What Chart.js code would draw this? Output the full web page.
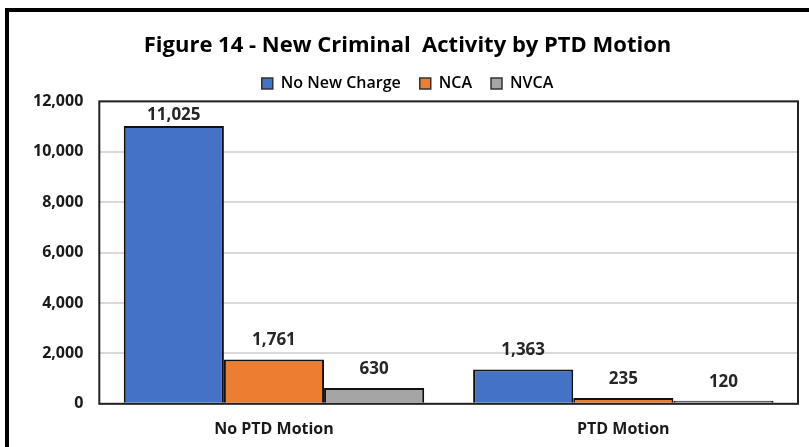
<!DOCTYPE html>
<html>
<head>
<meta charset="utf-8">
<script src="https://cdn.jsdelivr.net/npm/chart.js@4.4.0/dist/chart.umd.min.js"></script>
<style>
  html,body{margin:0;padding:0;background:#fff;}
  #wrap{position:relative;width:809px;height:447px;}
</style>
</head>
<body>
<div id="wrap"><canvas id="c" width="809" height="447"></canvas></div>
<script>
// chart data
const categories = ['No PTD Motion', 'PTD Motion'];
const noNewCharge = [11025, 1363];
const nca = [1761, 235];
const nvca = [630, 120];
const yTicks = [0, 2000, 4000, 6000, 8000, 10000, 12000];

const FONT = "'Open Sans', 'DejaVu Sans', sans-serif";

// outer frame + plot-area box
const framePlugin = {
  id: 'frame',
  afterDraw(chart) {
    const { ctx, chartArea: a } = chart;
    ctx.save();
    ctx.strokeStyle = '#000';
    ctx.lineWidth = 4;
    ctx.beginPath();
    ctx.moveTo(7, 460); ctx.lineTo(7, 10); ctx.lineTo(830, 10);
    ctx.stroke();
    ctx.strokeStyle = '#222';
    ctx.lineWidth = 2;
    ctx.strokeRect(a.left, a.top, a.right - a.left, a.bottom - a.top);
    ctx.restore();
  }
};

// bold value labels above each bar
const valueLabels = {
  id: 'valueLabels',
  afterDatasetsDraw(chart) {
    const { ctx, chartArea } = chart;
    ctx.save();
    ctx.font = 'bold 17px ' + FONT;
    ctx.fillStyle = '#262626';
    ctx.textAlign = 'center';
    ctx.textBaseline = 'middle';
    chart.data.datasets.forEach((ds, i) => {
      chart.getDatasetMeta(i).data.forEach((bar, j) => {
        const y = Math.max(bar.y - 19, chartArea.top + 14);
        ctx.fillText(ds.data[j].toLocaleString('en-US'), bar.x, y);
      });
    });
    ctx.restore();
  }
};

new Chart(document.getElementById('c'), {
  type: 'bar',
  data: {
    labels: categories,
    datasets: [
      { label: 'No New Charge', data: noNewCharge, backgroundColor: '#4472c4' },
      { label: 'NCA', data: nca, backgroundColor: '#ed7d31' },
      { label: 'NVCA', data: nvca, backgroundColor: '#a5a5a5' },
    ].map(d => Object.assign(d, { borderColor: '#111', borderWidth: 2, borderSkipped: 'bottom', categoryPercentage: 0.86, barPercentage: 1 }))
  },
  options: {
    responsive: false, animation: false,
    layout: { padding: { left: 17, right: 11, top: 33, bottom: 0 } },
    plugins: {
      title: {
        display: true, text: 'Figure 14 - New Criminal  Activity by PTD Motion',
        color: '#000', font: { family: FONT, size: 22, weight: 'bold' },
        padding: { top: 0, bottom: -3 }
      },
      legend: {
        position: 'top',
        labels: {
          color: '#000', font: { family: FONT, size: 16, weight: '600' },
          boxWidth: 11, boxHeight: 11, padding: 19,
          generateLabels(chart) {
            return chart.data.datasets.map((d, i) => ({
              text: d.label, fillStyle: d.backgroundColor, strokeStyle: '#333',
              lineWidth: 1.5, datasetIndex: i
            }));
          }
        }
      },
      tooltip: { enabled: false }
    },
    scales: {
      x: {
        grid: { display: false }, border: { display: false },
        ticks: { color: '#1a1a1a', font: { family: FONT, size: 16, weight: 'bold' }, padding: 8 }
      },
      y: {
        min: 0, max: 12000,
        afterBuildTicks(axis) { axis.ticks = yTicks.map(v => ({ value: v })); },
        grid: { color: '#d9d9d9', lineWidth: 2, drawTicks: false },
        border: { display: false },
        ticks: {
          color: '#1a1a1a', font: { family: FONT, size: 16, weight: 'bold' }, padding: 16,
          callback: v => v.toLocaleString('en-US')
        }
      }
    }
  },
  plugins: [framePlugin, valueLabels]
});
</script>
</body>
</html>
